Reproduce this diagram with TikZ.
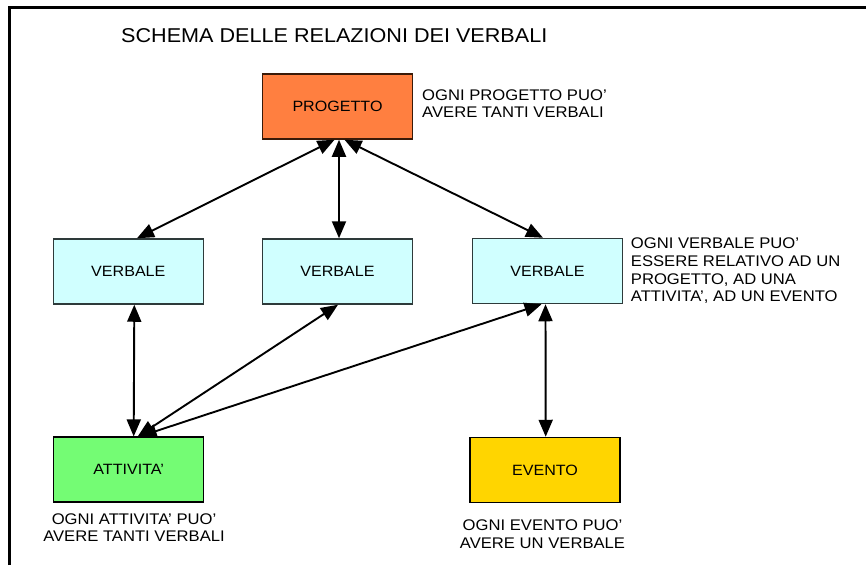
\documentclass[tikz,border=0pt]{standalone}
\usepackage{fontspec}
\setmainfont{Liberation Sans}[FakeStretch=1.08]
\usetikzlibrary{arrows.meta,calc}
\definecolor{progfill}{HTML}{FF7F40}
\definecolor{progdraw}{HTML}{3A1A08}
\definecolor{verbfill}{HTML}{D0FFFF}
\definecolor{verbdraw}{HTML}{2E3A3A}
\definecolor{attfill}{HTML}{74FC74}
\definecolor{evtfill}{HTML}{FFD500}
\tikzset{
  boxnode/.style={draw, line width=1.5pt, minimum width=150pt, minimum height=65pt, inner sep=0pt, font=\fontsize{14.9}{17}\selectfont},
  lbl/.style={inner sep=0pt, font=\fontsize{15.4}{17.6}\selectfont},
  conn/.style={line width=1.9pt, {Triangle[length=17pt,width=14pt]}-{Triangle[length=17pt,width=14pt]}}
}
\begin{document}
\begin{tikzpicture}[x=1pt,y=-1pt]
\useasboundingbox (0,0) rectangle (866,565);
\fill[white] (0,0) rectangle (866,565);
\coordinate (ftl) at (9.7,7.5);
\coordinate (ftr) at (866,7.5);
\coordinate (fbl) at (9.7,565);
\draw[line width=3pt] (fbl) -- (ftl) -- (ftr);
\node[inner sep=0pt, anchor=west, font=\fontsize{20}{22}\selectfont] (title) at (121,35.5) {SCHEMA DELLE RELAZIONI DEI VERBALI};
\node[boxnode, fill=progfill, draw=progdraw] (prog) at (337.5,106.5) {PROGETTO};
\node[boxnode, fill=verbfill, draw=verbdraw] (v1) at (128.3,271.5) {VERBALE};
\node[boxnode, fill=verbfill, draw=verbdraw] (v2) at (337.5,271.5) {VERBALE};
\node[boxnode, fill=verbfill, draw=verbdraw] (v3) at (547.5,271) {VERBALE};
\node[boxnode, fill=attfill] (att) at (128.7,469.7) {ATTIVITA'};
\node[boxnode, fill=evtfill] (evt) at (545,470) {EVENTO};
\node[lbl, anchor=west, align=left] (lprog) at (422,103.5) {OGNI PROGETTO PUO'\\AVERE TANTI VERBALI};
\node[lbl, anchor=west, align=left] (lverb) at (630.7,271) {OGNI VERBALE PUO'\\ESSERE RELATIVO AD UN\\PROGETTO, AD UNA\\ATTIVITA', AD UN EVENTO};
\node[lbl, align=center] (latt) at (134,527.5) {OGNI ATTIVITA' PUO'\\AVERE TANTI VERBALI};
\node[lbl, align=center] (levt) at (542.5,534) {OGNI EVENTO PUO'\\AVERE UN VERBALE};
\draw[conn] ([xshift=-3pt]prog.south) -- ([xshift=8.7pt]v1.north);
\draw[conn] ([xshift=1.5pt]prog.south) -- ([xshift=1.5pt]v2.north);
\draw[conn] ([xshift=7pt]prog.south) -- ([xshift=-4.5pt]v3.north);
\draw[conn] ([xshift=6pt]v1.south) -- ([xshift=5pt]att.north);
\draw[conn] ([xshift=0.5pt]v2.south) -- ([xshift=9pt]att.north);
\draw[conn] ([xshift=-6pt]v3.south) -- ([xshift=11pt]att.north);
\draw[conn] ([xshift=-2pt]v3.south) -- ([xshift=0.7pt]evt.north);
\end{tikzpicture}
\end{document}
